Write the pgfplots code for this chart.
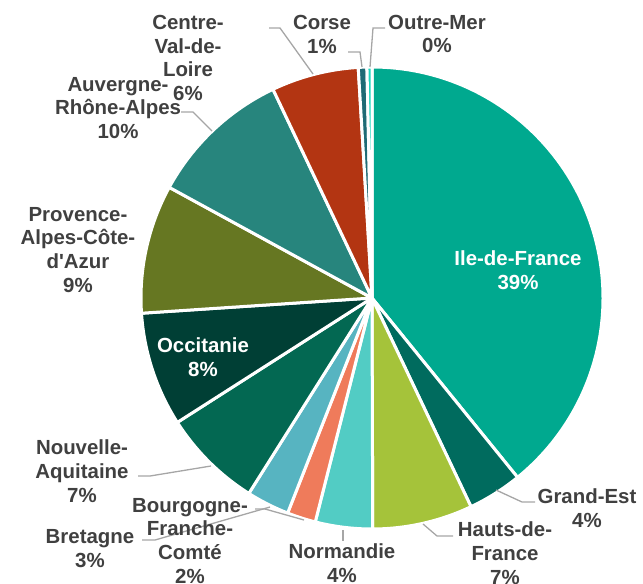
\documentclass[border=0pt]{standalone}
\usepackage{fontspec}
\setmainfont{Liberation Sans}[Ligatures=TeXOff]
\usepackage{pgfplots}
\usepackage{pgfplotstable}
\pgfplotsset{compat=1.18}

\definecolor{c0}{HTML}{00A98F}
\definecolor{c1}{HTML}{006B5E}
\definecolor{c2}{HTML}{A5C33A}
\definecolor{c3}{HTML}{52CCC4}
\definecolor{c4}{HTML}{EF7B5B}
\definecolor{c5}{HTML}{57B4C1}
\definecolor{c6}{HTML}{036852}
\definecolor{c7}{HTML}{003F35}
\definecolor{c8}{HTML}{667722}
\definecolor{c9}{HTML}{27857D}
\definecolor{c10}{HTML}{B33512}
\definecolor{c11}{HTML}{1F6B75}
\definecolor{c12}{HTML}{1ED7BF}
\definecolor{txt}{HTML}{404040}
\definecolor{lead}{HTML}{A6A6A6}

\tikzset{
  lbl/.style={font=\bfseries\fontsize{20.5}{24}\selectfont, text=txt, align=center, inner sep=0pt},
  ldr/.style={draw=lead, line width=1.3bp},
}

% share of each region, clockwise from 12 o'clock
\pgfplotstableread{
region value
IleDeFrance 39.15
GrandEst 3.8
HautsDeFrance 7.0
Normandie 4.0
BourgogneFC 2.0
Bretagne 3.0
NouvelleAquitaine 7.0
Occitanie 8.0
PACA 9.0
AuvergneRA 10.0
CentreVL 6.1
Corse 0.6
OutreMer 0.35
}\piedata

\begin{document}
\begin{tikzpicture}
% cumulative angles
\def\acc{90}
\foreach \i in {0,...,12}{%
  \pgfplotstablegetelem{\i}{value}\of\piedata
  \pgfmathsetmacro\a{\acc}%
  \pgfmathsetmacro\b{\acc-3.6*\pgfplotsretval}%
  \expandafter\xdef\csname ps\i\endcsname{\a}%
  \expandafter\xdef\csname pe\i\endcsname{\b}%
  \xdef\acc{\b}%
}
\begin{axis}[
    width=643bp, height=584bp,
    scale only axis,
    xmin=0, xmax=643, ymin=0, ymax=584,
    y dir=reverse,
    axis lines=none,
    ticks=none,
    clip=false,
]
\pgfplotsinvokeforeach{0,...,12}{
  \fill[c#1, draw=white, line width=3bp, line join=round]
    (axis cs:372,298) -- ++(\csname ps#1\endcsname:231bp)
    arc[start angle=\csname ps#1\endcsname, end angle=\csname pe#1\endcsname, radius=231bp] -- cycle;
}
% leader lines
\draw[ldr] (axis cs:385,28) -- (axis cs:373,28) -- (axis cs:370,67);
\draw[ldr] (axis cs:348,52) -- (axis cs:360,52) -- (axis cs:362,67);
\draw[ldr] (axis cs:269,28) -- (axis cs:280,28) -- (axis cs:313,74);
\draw[ldr] (axis cs:181,112) -- (axis cs:193,112) -- (axis cs:212,131);
\draw[ldr] (axis cs:138,476) -- (axis cs:150,476) -- (axis cs:211,466);
\draw[ldr] (axis cs:142,540) -- (axis cs:155,540) -- (axis cs:270,507);
\draw[ldr] (axis cs:255,509) -- (axis cs:265,509) -- (axis cs:304,520);
\draw[ldr] (axis cs:343,530) -- (axis cs:343,541);
\draw[ldr] (axis cs:423,524) -- (axis cs:437,536) -- (axis cs:453,536);
\draw[ldr] (axis cs:496,490) -- (axis cs:522,502) -- (axis cs:535,502);
% labels
\node[lbl, text=white] at (axis cs:518,270) {Ile-de-France\\39\%};
\node[lbl] at (axis cs:587,508) {Grand-Est\\4\%};
\node[lbl] at (axis cs:505,553) {Hauts-de-\\France\\7\%};
\node[lbl] at (axis cs:342,563) {Normandie\\4\%};
\node[lbl] at (axis cs:190,541) {Bourgogne-\\Franche-\\Comté\\2\%};
\node[lbl] at (axis cs:90,549) {Bretagne\\3\%};
\node[lbl] at (axis cs:82,471) {Nouvelle-\\Aquitaine\\7\%};
\node[lbl, text=white] at (axis cs:203,357) {Occitanie\\8\%};
\node[lbl] at (axis cs:78,250) {Provence-\\Alpes-Côte-\\d'Azur\\9\%};
\node[lbl] at (axis cs:118,108) {Auvergne-\\Rhône-Alpes\\10\%};
\node[lbl] at (axis cs:188,58) {Centre-\\Val-de-\\Loire\\6\%};
\node[lbl] at (axis cs:322,34) {Corse\\1\%};
\node[lbl] at (axis cs:437,34) {Outre-Mer\\0\%};
\end{axis}
\pgfresetboundingbox
\path (current axis.south west) rectangle (current axis.north east);
\end{tikzpicture}
\end{document}
